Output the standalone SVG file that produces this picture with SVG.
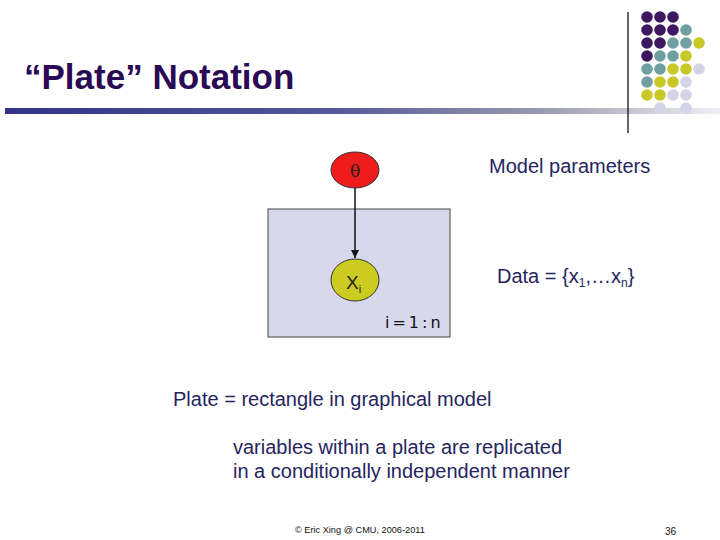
<svg xmlns="http://www.w3.org/2000/svg" width="720" height="540" viewBox="0 0 720 540">
<defs>
<linearGradient id="bar" x1="0" y1="0" x2="1" y2="0">
<stop offset="0" stop-color="#33338a"/>
<stop offset="0.45" stop-color="#55559a"/>
<stop offset="0.75" stop-color="#9a9ab0"/>
<stop offset="1" stop-color="#f0f0f4"/>
</linearGradient>
<marker id="arr" markerWidth="10" markerHeight="10" refX="9" refY="5" orient="auto" markerUnits="userSpaceOnUse">
<path d="M1,1 L9,5 L1,9 Z" fill="#111"/>
</marker>
<style>
.t{font-family:"Liberation Sans",Arial,sans-serif;fill:#25255f}
.p{fill:#3d1760}.g{fill:#6f9fa0}.y{fill:#c8c826}.l{fill:#d4d4e6}
</style>
</defs>
<rect width="720" height="540" fill="#fff"/>
<rect x="5" y="108" width="715" height="6" fill="url(#bar)"/>
<g id="dots">
<circle class="p" cx="647" cy="17" r="5.8"/><circle class="p" cx="660" cy="17" r="5.8"/><circle class="p" cx="673" cy="17" r="5.8"/>
<circle class="p" cx="647" cy="30" r="5.8"/><circle class="p" cx="660" cy="30" r="5.8"/><circle class="p" cx="673" cy="30" r="5.8"/><circle class="g" cx="686" cy="30" r="5.8"/>
<circle class="p" cx="647" cy="43" r="5.8"/><circle class="p" cx="660" cy="43" r="5.8"/><circle class="g" cx="673" cy="43" r="5.8"/><circle class="g" cx="686" cy="43" r="5.8"/><circle class="y" cx="699" cy="43" r="5.8"/>
<circle class="p" cx="647" cy="56" r="5.8"/><circle class="g" cx="660" cy="56" r="5.8"/><circle class="g" cx="673" cy="56" r="5.8"/><circle class="y" cx="686" cy="56" r="5.8"/>
<circle class="g" cx="647" cy="69" r="5.8"/><circle class="g" cx="660" cy="69" r="5.8"/><circle class="y" cx="673" cy="69" r="5.8"/><circle class="y" cx="686" cy="69" r="5.8"/><circle class="l" cx="699" cy="69" r="5.8"/>
<circle class="g" cx="647" cy="82" r="5.8"/><circle class="y" cx="660" cy="82" r="5.8"/><circle class="y" cx="673" cy="82" r="5.8"/><circle class="l" cx="686" cy="82" r="5.8"/>
<circle class="y" cx="647" cy="95" r="5.8"/><circle class="y" cx="660" cy="95" r="5.8"/><circle class="l" cx="673" cy="95" r="5.8"/><circle class="l" cx="686" cy="95" r="5.8"/>
<circle class="l" cx="660" cy="108" r="5.8"/><circle class="l" cx="686" cy="108" r="5.8"/>
</g>
<line x1="628" y1="12" x2="628" y2="133" stroke="#111" stroke-width="1.3"/>
<text class="t" x="24" y="89" font-size="35" font-weight="bold" style="fill:#2a0a55">“Plate” Notation</text>
<g id="plate">
<rect x="268" y="209" width="182" height="128" fill="#d8d8ec" stroke="#444" stroke-width="1"/>
<text x="385" y="328" font-family="'DejaVu Sans',sans-serif" font-size="16" fill="#111" letter-spacing="3">i=1:n</text>
</g>
<g id="connectors">
<line x1="355" y1="188" x2="355" y2="258" stroke="#111" stroke-width="1.5" marker-end="url(#arr)"/>
</g>
<g id="theta">
<ellipse cx="355" cy="170" rx="24" ry="18" fill="#ee1c1c" stroke="#333" stroke-width="1"/>
<text x="355" y="177" text-anchor="middle" font-family="'DejaVu Serif',serif" font-size="17" fill="#222">θ</text>
</g>
<g id="xi">
<ellipse cx="355" cy="280" rx="24" ry="21" fill="#cccc20" stroke="#333" stroke-width="1"/>
<text x="346" y="289" font-family="'Liberation Sans',Arial,sans-serif" font-size="19" fill="#222">X<tspan font-size="11" dy="4">i</tspan></text>
</g>
<text class="t" x="489" y="173" font-size="20">Model parameters</text>
<text class="t" x="497" y="283" font-size="20">Data = {x<tspan font-size="12" dy="4">1</tspan><tspan dy="-4">,…x</tspan><tspan font-size="12" dy="4">n</tspan><tspan dy="-4">}</tspan></text>
<text class="t" x="173" y="406" font-size="20">Plate = rectangle in graphical model</text>
<text class="t" x="233" y="454" font-size="20">variables within a plate are replicated</text>
<text class="t" x="233" y="478" font-size="20">in a conditionally independent manner</text>
<text x="295" y="533" font-family="'Liberation Sans',Arial,sans-serif" font-size="9.2" fill="#111">© Eric Xing @ CMU, 2006-2011</text>
<text x="665" y="535" font-family="'Liberation Sans',Arial,sans-serif" font-size="10" fill="#111">36</text>
</svg>
